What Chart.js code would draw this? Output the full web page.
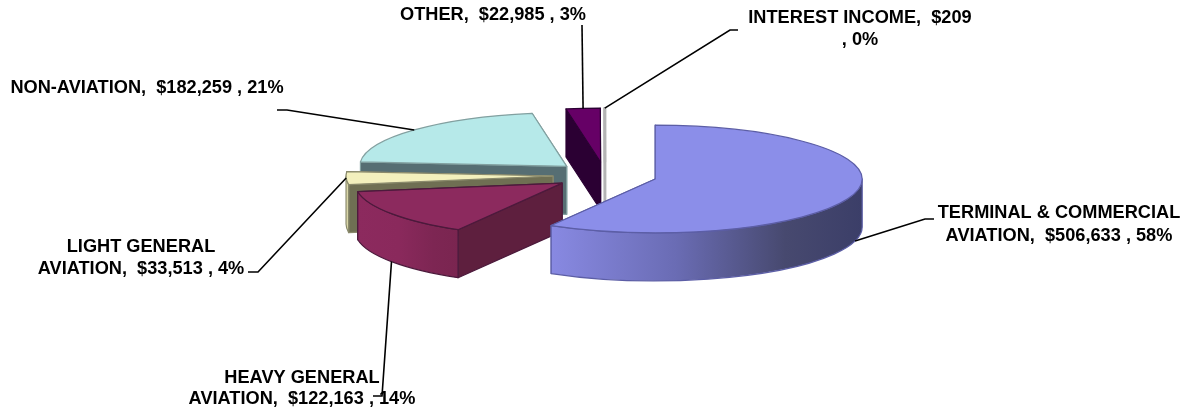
<!DOCTYPE html>
<html>
<head>
<meta charset="utf-8">
<style>
  html,body{margin:0;padding:0;background:#fff;}
  canvas{display:block;}
</style>
<script src="https://cdn.jsdelivr.net/npm/chart.js@4.4.0/dist/chart.umd.min.js"></script>
</head>
<body>
<canvas id="c-revenue" width="1186" height="413"></canvas>
<script>
const categories=['TERMINAL & COMMERCIAL AVIATION','HEAVY GENERAL AVIATION','LIGHT GENERAL AVIATION','NON-AVIATION','OTHER','INTEREST INCOME'];
const amounts=[506633,122163,33513,182259,22985,209];
const percents=[58,14,4,21,3,0];

/* slice styling, same order as categories */
const topColors=['#8b8ee9','#8c2a5e','#f3f0bd','#b6e9e9','#660066','#ffffff'];
const cutColors=['#5f61a8','#5e1f3e','#6f6f53','#566e73','#2b0033','#d8d8d8'];
const wallStops=[['#8889e2','#6a6cb4','#47496f','#3b3e68'],['#8c2a5e','#8a295c','#7d2653','#7a2550'],['#e6e3b4','#d9d6a8','#6f6f53','#6f6f53'],['#566e73','#566e73','#566e73','#566e73'],['#2b0033','#2b0033','#2b0033','#2b0033'],['#d8d8d8','#d8d8d8','#d8d8d8','#d8d8d8']];
const edgeColors=['#5c5ea6','#4c1a3c','#8a8a6c','#82a0a0','#2b0033','#b4b4b4'];

/* back to front */
const paintOrder=[3,4,5,2,1,0];

const SQUASH=.26,DEPTH=48,EXPLODE=52,TAU=Math.PI*2;

/* text box and elbow for each callout; line = [start, elbow] leading to the slice */
const callouts=[
  {wrap:'COMMERCIAL',x:1059,y:213,gap:23,line:[[934,219],[925,219]]},
  {wrap:'GENERAL',x:302,y:378,gap:21,line:[[373,396],[382,396]]},
  {wrap:'GENERAL',x:141,y:247,gap:22,line:[[248,272],[258,272]]},
  {wrap:null,x:147,y:88,gap:0,line:[[277,110],[287,110]]},
  {wrap:null,x:493,y:15,gap:0,line:[[582,25]]},
  {wrap:'$209',x:860,y:18,gap:22,line:[[738,30],[730,30]]}
];

function slicePath(ctx,cx,cy,rx,ry,a0,a1){
  ctx.beginPath();
  ctx.moveTo(cx,cy);
  ctx.ellipse(cx,cy,rx,ry,0,a0,a1);
  ctx.closePath();
}

function radialFace(ctx,cx,cy,rx,ry,a){
  ctx.beginPath();
  ctx.moveTo(cx,cy);
  ctx.lineTo(cx+Math.cos(a)*rx,cy+Math.sin(a)*ry);
  ctx.lineTo(cx+Math.cos(a)*rx,cy+Math.sin(a)*ry+DEPTH);
  ctx.lineTo(cx,cy+DEPTH);
  ctx.closePath();
  ctx.fill();ctx.stroke();
}

// only the part of the rim with canvas angle 0..PI faces the viewer
function frontRim(a0,a1){
  const from=Math.max(a0,0),to=Math.min(a1,Math.PI);
  if(to>from)return [from,to];
  const from2=Math.max(a0,TAU),to2=Math.min(a1,TAU+Math.PI);
  return to2>from2?[from2,to2]:null;
}

function drawSlice(ctx,arc,i){
  const mid=(arc.startAngle+arc.endAngle)/2;
  const rx=arc.outerRadius,ry=rx*SQUASH;
  const off=arc.options.offset;
  const cx=arc.x+Math.cos(mid)*off;
  const cy=arc.y+Math.sin(mid)*off*SQUASH;

  ctx.save();
  ctx.lineJoin='round';
  ctx.lineWidth=i===5?2.5:1.2;
  ctx.strokeStyle=edgeColors[i];

  // cut faces, the one further back first
  ctx.fillStyle=cutColors[i];
  [arc.startAngle,arc.endAngle].sort((p,q)=>Math.sin(p)-Math.sin(q)).forEach(a=>radialFace(ctx,cx,cy,rx,ry,a));

  // rim
  const rim=frontRim(arc.startAngle,arc.endAngle);
  if(rim){
    const xa=cx+Math.cos(rim[1])*rx,xb=cx+Math.cos(rim[0])*rx;
    const g=ctx.createLinearGradient(Math.min(xa,xb),0,Math.max(xa,xb)+1,0);
    wallStops[i].forEach((c,k)=>g.addColorStop([0,.4,.75,1][k],c));
    ctx.fillStyle=g;
    ctx.beginPath();
    ctx.ellipse(cx,cy,rx,ry,0,rim[0],rim[1]);
    ctx.ellipse(cx,cy+DEPTH,rx,ry,0,rim[1],rim[0],true);
    ctx.closePath();
    ctx.fill();ctx.stroke();
  }

  // top
  ctx.fillStyle=arc.options.backgroundColor;
  slicePath(ctx,cx,cy,rx,ry,arc.startAngle,arc.endAngle);
  ctx.fill();ctx.stroke();
  ctx.restore();
}

function calloutText(i){
  return categories[i]+',  $'+amounts[i].toLocaleString('en-US')+' , '+percents[i]+'%';
}

function drawCallout(ctx,arc,i){
  const c=callouts[i];
  const mid=(arc.startAngle+arc.endAngle)/2;
  const off=arc.options.offset,rx=arc.outerRadius,ry=rx*SQUASH;
  // leader ends at the middle of the slice's rim
  const ax=arc.x+Math.cos(mid)*off+Math.cos(mid)*rx;
  let ay=arc.y+Math.sin(mid)*off*SQUASH+Math.sin(mid)*ry;
  if(Math.sin(mid)>.2)ay+=DEPTH;

  ctx.strokeStyle='#000';
  ctx.lineWidth=1.6;
  ctx.beginPath();
  c.line.forEach((p,k)=>k?ctx.lineTo(p[0],p[1]):ctx.moveTo(p[0],p[1]));
  ctx.lineTo(ax,ay);
  ctx.stroke();

  const text=calloutText(i);
  let lines=[text];
  if(c.wrap){
    const cut=text.indexOf(c.wrap)+c.wrap.length;
    lines=[text.slice(0,cut),text.slice(cut).trim()];
  }
  ctx.fillStyle='#000';
  ctx.font="bold 18.2px 'Liberation Sans'";
  ctx.textAlign='center';
  ctx.textBaseline='middle';
  lines.forEach((l,k)=>ctx.fillText(l,c.x,c.y+k*c.gap));
}

const pie3d={
  id:'pie3d',
  beforeDatasetDraw(chart){
    const arcs=chart.getDatasetMeta(0).data,ctx=chart.ctx;
    paintOrder.forEach(i=>drawSlice(ctx,arcs[i],i));
    return false;
  },
  afterDatasetsDraw(chart){
    const arcs=chart.getDatasetMeta(0).data,ctx=chart.ctx;
    ctx.save();
    arcs.forEach((a,i)=>drawCallout(ctx,a,i));
    ctx.restore();
  }
};

new Chart(document.getElementById('c-revenue').getContext('2d'),{
  type:'pie',
  data:{
    labels:categories,
    datasets:[{data:amounts,backgroundColor:topColors,offset:EXPLODE,radius:207}]
  },
  options:{
    responsive:false,
    animation:false,
    layout:{padding:{left:24,bottom:62}},
    plugins:{legend:{display:false},tooltip:{enabled:false}}
  },
  plugins:[pie3d]
});
</script>
</body>
</html>
